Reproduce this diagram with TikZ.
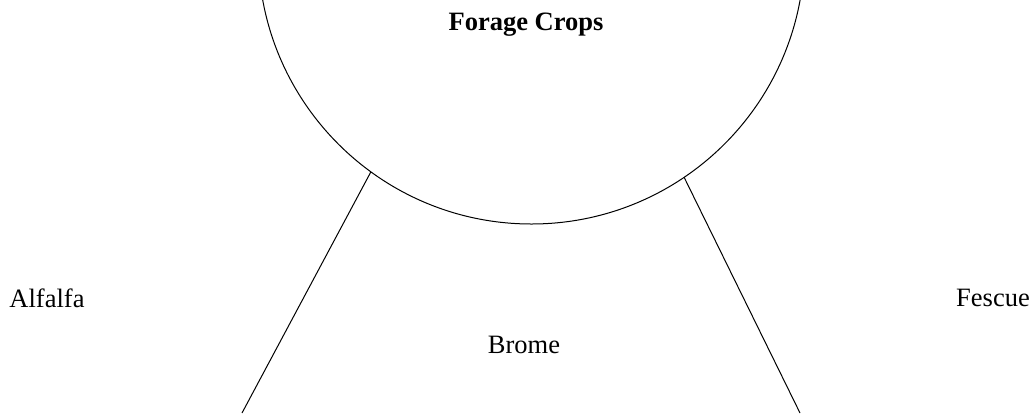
\documentclass[tikz,border=0pt]{standalone}
\usepackage{fontspec}
\setmainfont{Liberation Serif}
\usetikzlibrary{positioning}
\tikzset{
    cropname/.style={anchor=base,font=\fontsize{13.25pt}{16pt}\selectfont},
    branch/.style={draw,line width=0.5pt}
}

\begin{document}
\begin{tikzpicture}[x=0.5pt,y=-0.5pt]
    \clip (0,0) rectangle (1036,413);
    \node[circle,branch,minimum size=273.1pt,inner sep=0pt,outer sep=0pt] (forage) at (531.4,-49.1) {};
    \node[cropname,font=\fontsize{13.25pt}{16pt}\selectfont\bfseries] (title) at (526,30) {Forage Crops};

    \node[cropname] (alfalfa) at (47,307) {Alfalfa};
    \node[cropname] (brome) at (524,353) {Brome};
    \node[cropname] (fescue) at (993,306) {Fescue};

    \coordinate (leftend) at (242,413);
    \coordinate (rightend) at (800,413);
    \draw[branch] (forage.234) -- (leftend);
    \draw[branch] (forage.304) -- (rightend);
\end{tikzpicture}
\end{document}
